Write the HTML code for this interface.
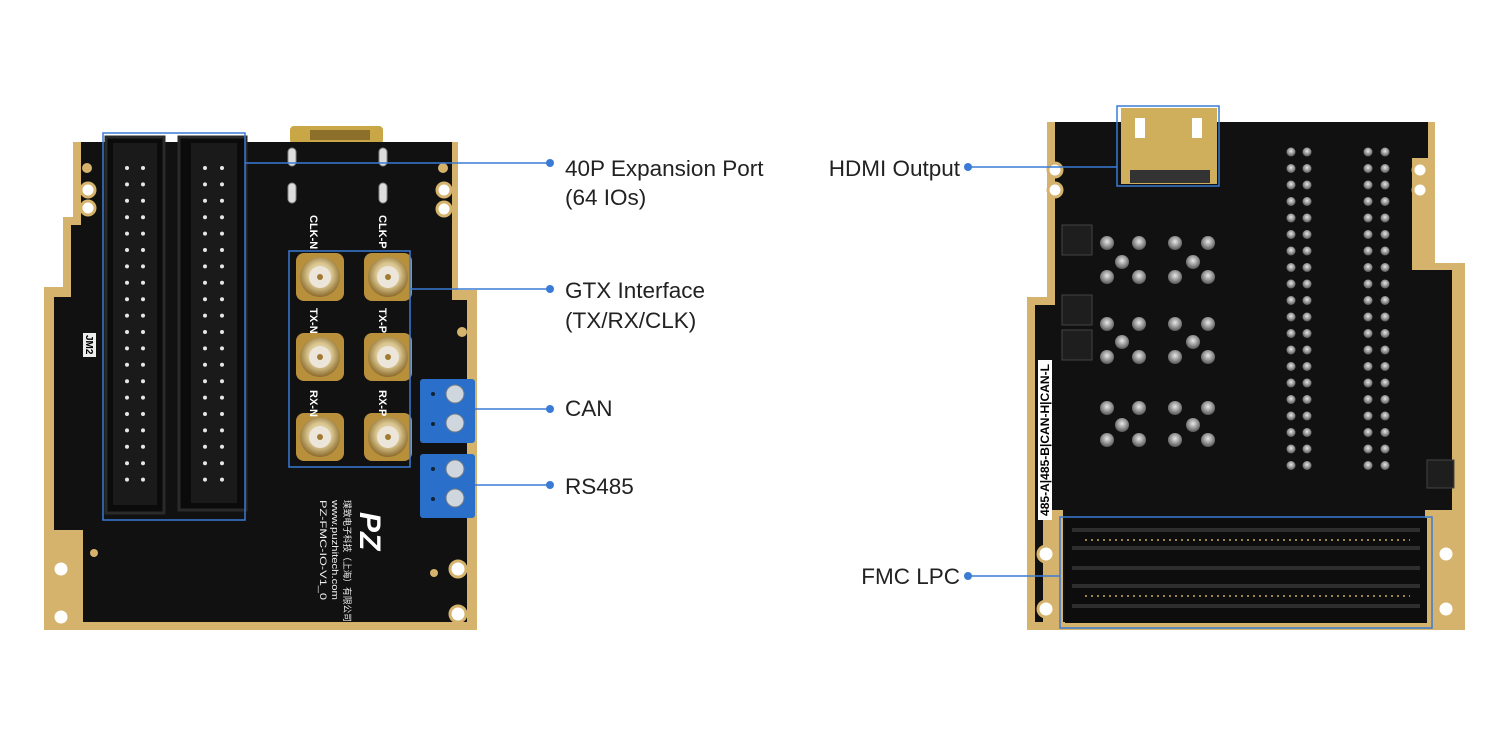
<!DOCTYPE html>
<html><head><meta charset="utf-8"><style>
html,body{margin:0;padding:0;background:#fff;}
svg{display:block;}
text{font-family:"Liberation Sans","Noto Sans CJK SC",sans-serif;}
</style></head><body>
<svg width="1508" height="736" viewBox="0 0 1508 736" xmlns="http://www.w3.org/2000/svg">
<defs>
<radialGradient id="sma" cx="50%" cy="45%" r="55%"><stop offset="0" stop-color="#f4ead0"/><stop offset="0.55" stop-color="#d8c48e"/><stop offset="1" stop-color="#8a6a2a"/></radialGradient>
<radialGradient id="pad" cx="50%" cy="40%" r="60%"><stop offset="0" stop-color="#e8e8e8"/><stop offset="1" stop-color="#555"/></radialGradient>
</defs>
<rect width="1508" height="736" fill="#fff"/>

<!-- LEFT BOARD -->
<rect x="290" y="126" width="93" height="18" rx="4" fill="#c9a646"/>
<rect x="310" y="130" width="60" height="10" fill="#8c6f2a"/>
<polygon points="73,142 458,142 458,290 477,290 477,630 44,630 44,287 63,287 63,217 73,217" fill="#d6b36c"/>
<polygon points="81,142 452,142 452,300 467,300 467,622 83,622 83,530 54,530 54,297 71,297 71,225 81,225" fill="#111"/>
<g fill="#fff" stroke="#d6b36c" stroke-width="3">
<circle cx="61" cy="569" r="8"/><circle cx="61" cy="617" r="8"/>
<circle cx="458" cy="569" r="8"/><circle cx="458" cy="614" r="8"/>
<circle cx="88" cy="190" r="7"/><circle cx="88" cy="208" r="7"/>
<circle cx="444" cy="190" r="7"/><circle cx="444" cy="209" r="7"/>
</g>
<g fill="#d6b36c"><circle cx="87" cy="168" r="5"/><circle cx="443" cy="168" r="5"/><circle cx="462" cy="332" r="5"/><circle cx="94" cy="553" r="4"/><circle cx="434" cy="573" r="4"/></g>
<g fill="#ddd" stroke="#888"><rect x="288" y="148" width="8" height="18" rx="4"/><rect x="379" y="148" width="8" height="18" rx="4"/><rect x="288" y="183" width="8" height="20" rx="4"/><rect x="379" y="183" width="8" height="20" rx="4"/></g>
<rect x="106" y="137" width="58" height="376" fill="#0b0b0b" stroke="#2a2a2a" stroke-width="3"/>
<rect x="113" y="143" width="44" height="362" fill="#1a1a1a"/>
<rect x="179" y="137" width="67" height="373" fill="#0b0b0b" stroke="#2a2a2a" stroke-width="3"/>
<rect x="191" y="143" width="46" height="360" fill="#1a1a1a"/>
<g id="pins" fill="#e6e6e6"></g>
<g id="smas"></g>
<g fill="#fff" font-size="11" font-weight="bold">
<text transform="translate(310,215) rotate(90)">CLK-N</text>
<text transform="translate(379,215) rotate(90)">CLK-P</text>
<text transform="translate(310,308) rotate(90)">TX-N</text>
<text transform="translate(379,308) rotate(90)">TX-P</text>
<text transform="translate(310,390) rotate(90)">RX-N</text>
<text transform="translate(379,390) rotate(90)">RX-P</text>
</g>
<rect x="83" y="333" width="13" height="24" fill="#eee"/>
<text transform="translate(86,335) rotate(90)" font-size="10" font-weight="bold" fill="#000">JM2</text>
<rect x="420" y="379" width="55" height="64" rx="3" fill="#2a6fc9"/>
<rect x="420" y="454" width="55" height="64" rx="3" fill="#2a6fc9"/>
<g fill="#cfd6de" stroke="#6c7a88"><circle cx="455" cy="394" r="9"/><circle cx="455" cy="423" r="9"/><circle cx="455" cy="469" r="9"/><circle cx="455" cy="498" r="9"/></g>
<g fill="#123"><circle cx="433" cy="394" r="2"/><circle cx="433" cy="424" r="2"/><circle cx="433" cy="469" r="2"/><circle cx="433" cy="499" r="2"/></g>
<g fill="#eee" font-size="9">
<text transform="translate(344,500) rotate(90)" textLength="122" lengthAdjust="spacingAndGlyphs">璞致电子科技（上海）有限公司</text>
<text transform="translate(332,500) rotate(90)" textLength="100" lengthAdjust="spacingAndGlyphs">www.puzhitech.com</text>
<text transform="translate(320,500) rotate(90)" textLength="100" lengthAdjust="spacingAndGlyphs">PZ-FMC-IO-V1_0</text>
</g>
<text transform="translate(360,512) rotate(90)" fill="#fff" font-size="30" font-weight="bold" font-style="italic">PZ</text>

<!-- RIGHT BOARD -->
<polygon points="1047,122 1435,122 1435,263 1465,263 1465,630 1027,630 1027,297 1047,297" fill="#d6b36c"/>
<polygon points="1055,122 1428,122 1428,158 1412,158 1412,270 1452,270 1452,622 1035,622 1035,305 1055,305" fill="#111"/>
<rect x="1043" y="510" width="20" height="112" fill="#d6b36c"/>
<rect x="1425" y="510" width="27" height="112" fill="#d6b36c"/>
<g fill="#fff" stroke="#d6b36c" stroke-width="3">
<circle cx="1055" cy="170" r="7"/><circle cx="1055" cy="190" r="7"/>
<circle cx="1420" cy="170" r="7"/><circle cx="1420" cy="190" r="7"/>
<circle cx="1046" cy="554" r="8"/><circle cx="1046" cy="609" r="8"/>
<circle cx="1446" cy="554" r="8"/><circle cx="1446" cy="609" r="8"/>
</g>
<rect x="1121" y="108" width="96" height="76" fill="#cfae5c"/>
<rect x="1130" y="170" width="80" height="13" fill="#333"/>
<rect x="1135" y="118" width="10" height="20" fill="#fff"/><rect x="1192" y="118" width="10" height="20" fill="#fff"/>
<rect x="1038" y="360" width="14" height="160" fill="#fff"/>
<text transform="translate(1049,516) rotate(-90)" font-size="12" font-weight="bold" fill="#000" textLength="152" lengthAdjust="spacingAndGlyphs">485-A|485-B|CAN-H|CAN-L</text>
<g fill="#1e1e1e" stroke="#444"><rect x="1062" y="225" width="30" height="30"/><rect x="1062" y="295" width="30" height="30"/><rect x="1062" y="330" width="30" height="30"/><rect x="1427" y="460" width="27" height="28"/></g>
<g id="rpads"></g>
<rect x="1065" y="518" width="362" height="105" fill="#0d0d0d"/>
<g stroke="#2e2e2e" stroke-width="4"><line x1="1072" y1="530" x2="1420" y2="530"/><line x1="1072" y1="548" x2="1420" y2="548"/><line x1="1072" y1="568" x2="1420" y2="568"/><line x1="1072" y1="586" x2="1420" y2="586"/><line x1="1072" y1="606" x2="1420" y2="606"/></g>
<g stroke="#9b8348" stroke-width="2" stroke-dasharray="2,4"><line x1="1085" y1="540" x2="1410" y2="540"/><line x1="1085" y1="596" x2="1410" y2="596"/></g>

<g fill="none" stroke="#3a7bd5" stroke-width="1.5">
<rect x="103" y="133" width="142" height="387"/>
<rect x="289" y="251" width="121" height="216"/>
<rect x="1117" y="106" width="102" height="80"/>
<rect x="1060" y="517" width="372" height="111"/>
</g>
<g stroke="#3a7bd5" stroke-width="1.5">
<line x1="245" y1="163" x2="550" y2="163"/>
<line x1="410" y1="289" x2="550" y2="289"/>
<line x1="475" y1="409" x2="550" y2="409"/>
<line x1="475" y1="485" x2="550" y2="485"/>
<line x1="968" y1="167" x2="1117" y2="167"/>
<line x1="968" y1="576" x2="1060" y2="576"/>
</g>
<g fill="#3a7bd5"><circle cx="550" cy="163" r="4"/><circle cx="550" cy="289" r="4"/><circle cx="550" cy="409" r="4"/><circle cx="550" cy="485" r="4"/><circle cx="968" cy="167" r="4"/><circle cx="968" cy="576" r="4"/></g>
<g fill="#222" font-size="22.5">
<text x="565" y="176">40P Expansion Port</text>
<text x="565" y="205">(64 IOs)</text>
<text x="565" y="298">GTX Interface</text>
<text x="565" y="328">(TX/RX/CLK)</text>
<text x="565" y="416">CAN</text>
<text x="565" y="494">RS485</text>
<text x="960" y="176" text-anchor="end">HDMI Output</text>
<text x="960" y="584" text-anchor="end">FMC LPC</text>
</g>
</svg>
<script>
var ns="http://www.w3.org/2000/svg";
function c(g,x,y,r,f){var e=document.createElementNS(ns,"circle");e.setAttribute("cx",x);e.setAttribute("cy",y);e.setAttribute("r",r);e.setAttribute("fill",f);g.appendChild(e);}
var p=document.getElementById("pins");
for(var i=0;i<20;i++){var y=168+i*16.4;[127,143,205,222].forEach(function(x){c(p,x,y,2,"#e6e6e6");});}
var s=document.getElementById("smas");
[[320,277],[388,277],[320,357],[388,357],[320,437],[388,437]].forEach(function(q){
var r=document.createElementNS(ns,"rect");r.setAttribute("x",q[0]-24);r.setAttribute("y",q[1]-24);r.setAttribute("width",48);r.setAttribute("height",48);r.setAttribute("rx",8);r.setAttribute("fill","#b8903c");s.appendChild(r);
c(s,q[0],q[1],20,"url(#sma)");c(s,q[0],q[1],11,"#ece6da");c(s,q[0],q[1],3,"#a07a30");});
var rp=document.getElementById("rpads");
for(var i=0;i<20;i++){var y=152+i*16.5;[1291,1307,1368,1385].forEach(function(x){c(rp,x,y,4.5,"url(#pad)");});}
[[1107,243],[1139,243],[1175,243],[1208,243],[1122,262],[1193,262],[1107,277],[1139,277],[1175,277],[1208,277],
 [1107,324],[1139,324],[1175,324],[1208,324],[1122,342],[1193,342],[1107,357],[1139,357],[1175,357],[1208,357],
 [1107,408],[1139,408],[1175,408],[1208,408],[1122,425],[1193,425],[1107,440],[1139,440],[1175,440],[1208,440]].forEach(function(q){c(rp,q[0],q[1],7,"url(#pad)");});
</script>
</body></html>
